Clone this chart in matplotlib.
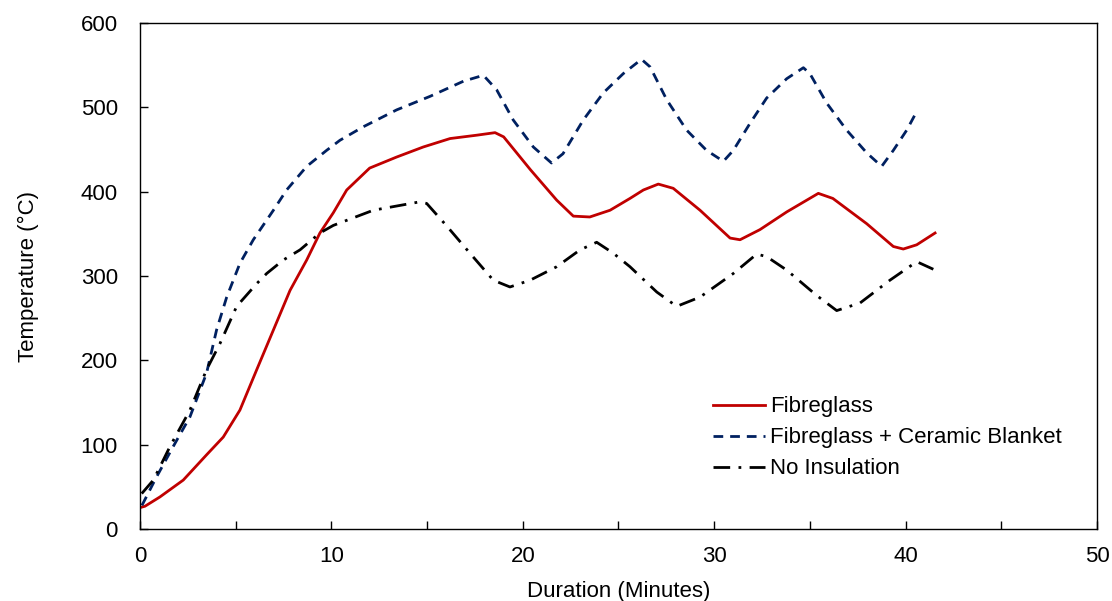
import matplotlib
matplotlib.use("Agg")
from matplotlib import pyplot as plt
from matplotlib.ticker import MultipleLocator

# Fibreglass
fg_x = [0.1, 0.26, 1.04, 2.26, 3.48, 4.35, 5.22, 6.1, 6.97, 7.84, 8.71, 9.4, 10.1, 10.8,
        12.0, 13.4, 14.8, 16.2, 17.6, 18.55, 19.0, 20.4, 21.77, 22.64, 23.5, 24.56, 25.6,
        26.3, 27.08, 27.86, 29.26, 30.83, 31.35, 32.39, 33.79, 35.44, 36.2, 37.97, 39.36,
        39.88, 40.58, 41.54]
fg_y = [26, 27, 38, 58, 88, 109, 141, 189, 236, 283, 319, 351, 375, 402,
        428, 441, 453, 463, 467, 470, 465, 426, 390, 371, 370, 378, 392,
        402, 409, 404, 378, 345, 343, 355, 376, 398, 392, 362, 335,
        332, 337, 351]

# Fibreglass + Ceramic Blanket
cb_x = [0.1, 0.17, 0.87, 1.74, 2.61, 3.48, 4.0, 4.53, 5.22, 5.92, 6.97, 7.66, 8.71, 9.75,
        10.45, 11.67, 13.41, 15.15, 16.9, 17.94, 18.63, 19.5, 20.55, 21.5, 22.1, 23.16,
        24.2, 25.25, 26.2, 26.65, 27.52, 28.56, 29.6, 30.48, 31.0, 31.87, 32.74, 33.79,
        34.66, 35.0, 35.88, 36.92, 37.97, 38.75, 39.36, 40.06, 40.58]
cb_y = [28, 31, 62, 98, 133, 185, 236, 275, 315, 343, 378, 402, 430, 449,
        461, 477, 497, 513, 531, 538, 521, 485, 453, 434, 445, 485,
        517, 540, 557, 548, 509, 473, 449, 436, 449, 481, 511, 534,
        547, 540, 505, 473, 446, 430, 449, 473, 495]

# No Insulation
ni_x = [0.09, 0.7, 1.57, 2.61, 3.48, 4.18, 5.05, 6.1, 6.62, 7.49, 8.36, 9.4, 10.1, 12.19,
        14.63, 14.98, 16.0, 17.24, 18.46, 19.33, 20.38, 21.77, 22.99, 23.86, 24.73, 25.6,
        27.0, 28.04, 29.26, 31.0, 32.22, 32.74, 33.79, 35.35, 36.4, 37.62, 39.18, 40.58,
        41.45]
ni_y = [42, 58, 98, 141, 189, 220, 264, 291, 303, 319, 331, 351, 360, 378,
        388, 386, 360, 327, 295, 287, 295, 311, 331, 340, 327, 311,
        281, 264, 275, 303, 326, 323, 307, 277, 259, 268, 295, 317,
        308]

plt.rcParams['font.family'] = ['Liberation Sans', 'DejaVu Sans']

fig = plt.figure(figsize=(11.12, 6.01), dpi=100)
ax = fig.add_axes([0.1259, 0.1198, 0.8606, 0.8419])

ax.plot(fg_x, fg_y, color='#C00000', lw=2, label='Fibreglass')
ax.plot(cb_x, cb_y, color='#002060', lw=2, linestyle=(0, (3.5, 2.5)),
        label='Fibreglass + Ceramic Blanket')
ax.plot(ni_x, ni_y, color='black', lw=2, linestyle=(0, (6, 3, 1, 3)),
        label='No Insulation')

ax.set_xlim(0, 50)
ax.set_ylim(0, 600)
ax.xaxis.set_major_locator(MultipleLocator(10))
ax.xaxis.set_minor_locator(MultipleLocator(5))
ax.yaxis.set_major_locator(MultipleLocator(100))
ax.tick_params(axis='both', which='both', direction='in', length=6, width=1,
               labelsize=16)
ax.tick_params(axis='x', pad=12)
ax.tick_params(axis='y', pad=16)
for s in ax.spines.values():
    s.set_linewidth(1)

ax.set_xlabel('Duration (Minutes)', fontsize=16, labelpad=10)
ax.set_ylabel('Temperature (°C)', fontsize=16, labelpad=30)

ax.legend(loc='upper left', bbox_to_anchor=(0.599, 0.262), frameon=False,
          fontsize=16, handlelength=2.35, handletextpad=0.2, labelspacing=0.45,
          borderpad=0, borderaxespad=0)

plt.savefig('out.png', dpi=100)
